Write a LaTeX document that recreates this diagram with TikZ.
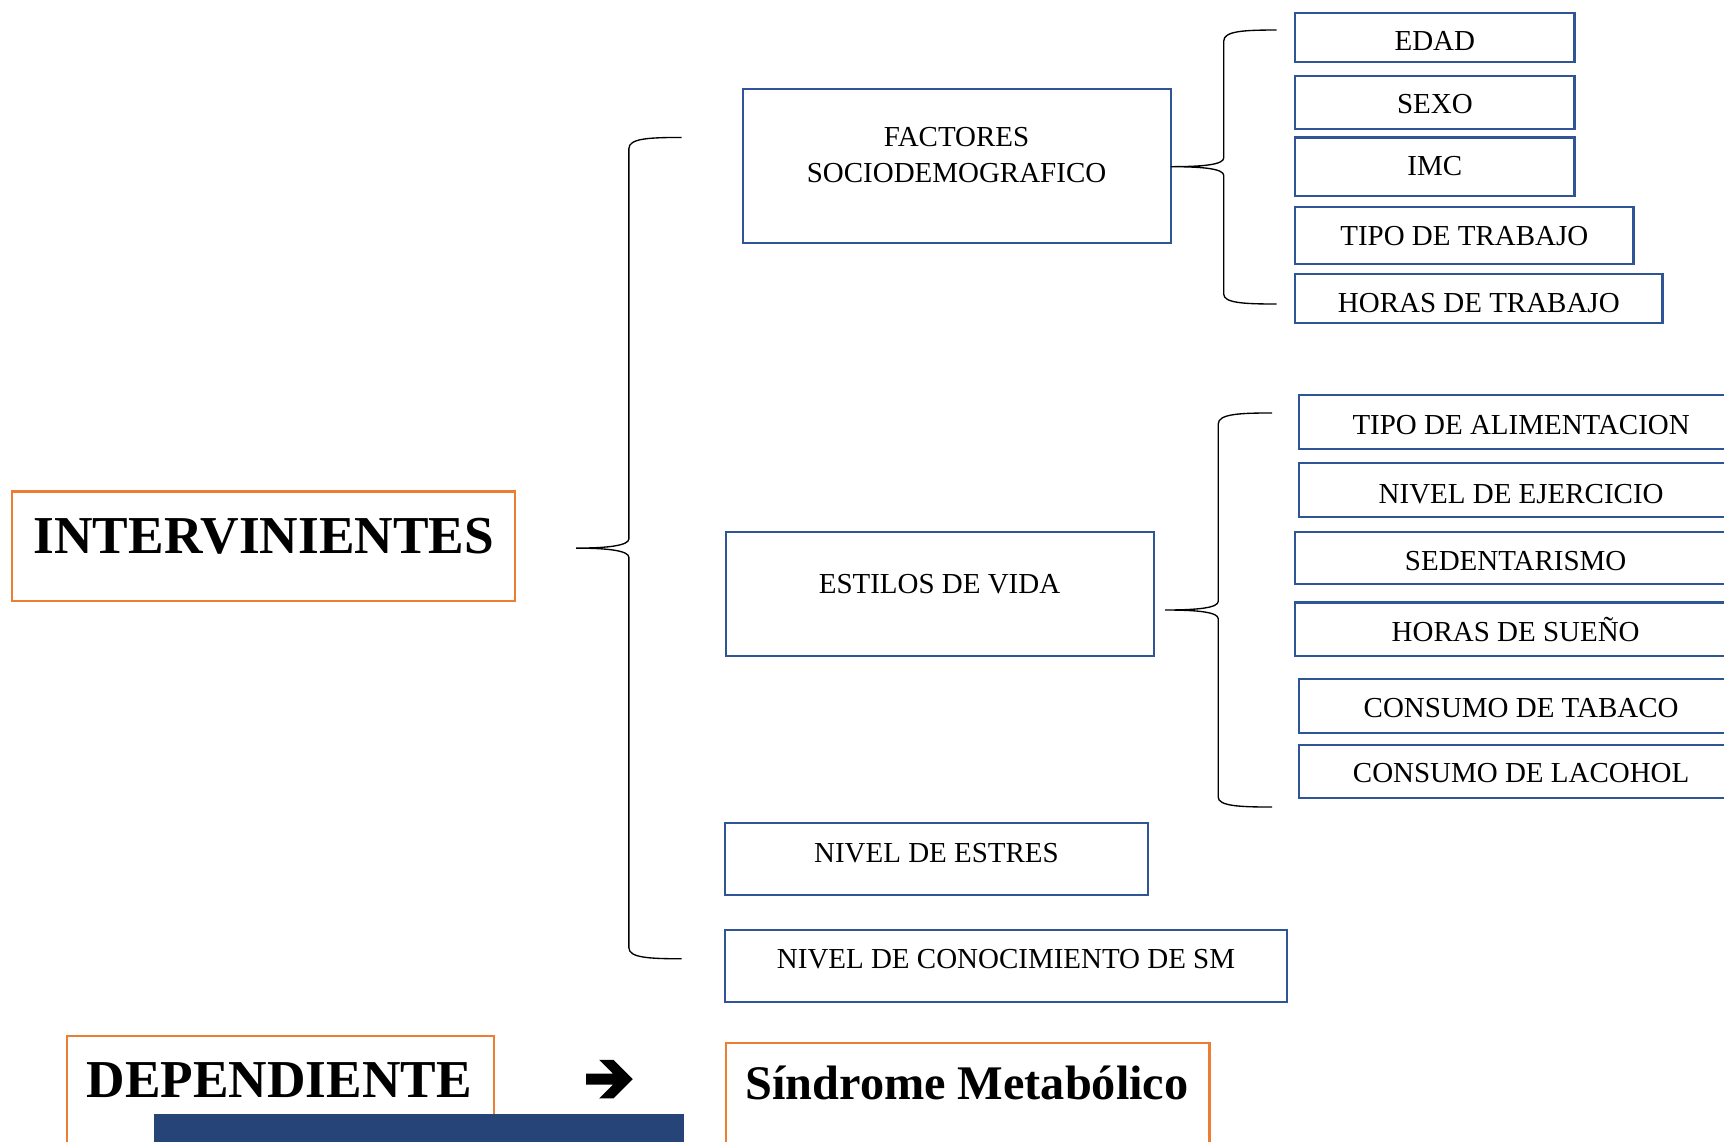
\documentclass[tikz,border=0pt]{standalone}
\usepackage{fontspec}
\setmainfont{Liberation Serif}
\usepackage{tikz}
\usetikzlibrary{fit}
\definecolor{boxblue}{HTML}{2F5597}
\definecolor{boxorange}{HTML}{ED7D31}
\definecolor{barblue}{HTML}{264478}
\tikzset{
x=0.02cm, y=-0.02cm, % one unit is one pixel of the layout, y going down
bluebox/.style={draw=boxblue, line width=1.1pt, inner sep=0pt}, % boxes of the variables
orangebox/.style={draw=boxorange, line width=1.1pt, inner sep=0pt}, % boxes of the kinds of variable
lbl/.style={anchor=base, inner sep=0pt, font=\fontsize{15}{18}\selectfont}, % text in the blue boxes
title/.style={anchor=base, inner sep=0pt, font=\fontsize{27.6}{30}\selectfont\bfseries},
brace/.style={draw=black, line width=0.7pt},
}

\begin{document}
\begin{tikzpicture}
		\useasboundingbox (0,0) rectangle (1568,1038);
		\clip (0,0) rectangle (1568,1038);

		% intervinientes
		\node[orangebox, fit={(11,447) (468,547)}] (inter) {};
		\node[title] (interT) at (240,503) {INTERVINIENTES};

		\node[bluebox, fit={(676,81) (1065,221)}] (fact) {};
		\node[lbl] (factA) at (870,133.5) {FACTORES};
		\node[lbl] (factB) at (870,166) {SOCIODEMOGRAFICO};
		\node[bluebox, fit={(660,483.6) (1049.6,596.4)}] (vida) {};
		\node[lbl] (vidaT) at (854.5,539.6) {ESTILOS DE VIDA};
		\node[bluebox, fit={(659.4,748.7) (1044,814)}] (estres) {};
		\node[lbl] (estresT) at (851.7,784.6) {NIVEL DE ESTRES};
		\node[bluebox, fit={(659.5,846) (1170.5,911)}] (conoc) {};
		\node[lbl] (conocT) at (915,880.5) {NIVEL DE CONOCIMIENTO DE SM};

		% sociodemograficos
		\node[bluebox, fit={(1178,11.5) (1432,56.7)}] (edad) {};
		\node[lbl] (edadT) at (1305,46) {EDAD};
		\node[bluebox, fit={(1178,69) (1432,117.3)}] (sexo) {};
		\node[lbl] (sexoT) at (1305,103.5) {SEXO};
		\node[bluebox, fit={(1178,125) (1432,178)}] (imc) {};
		\node[lbl] (imcT) at (1305,160) {IMC};
		\node[bluebox, fit={(1178,188) (1485.7,240)}] (tipotr) {};
		\node[lbl] (tipotrT) at (1331.8,223) {TIPO DE TRABAJO};
		\node[bluebox, fit={(1178,249.5) (1512,294)}] (horastr) {};
		\node[lbl] (horastrT) at (1345,284) {HORAS DE TRABAJO};

		% estilos de vida
		\node[bluebox, fit={(1181.5,359) (1585.5,408.5)}] (alim) {};
		\node[lbl] (alimT) at (1383.5,395) {TIPO DE ALIMENTACION};
		\node[bluebox, fit={(1181.5,421) (1585.5,470)}] (ejer) {};
		\node[lbl] (ejerT) at (1383.5,457.5) {NIVEL DE EJERCICIO};
		\node[bluebox, fit={(1177.5,484) (1579.5,531)}] (sedent) {};
		\node[lbl] (sedentT) at (1378.5,519) {SEDENTARISMO};
		\node[bluebox, fit={(1177.5,548) (1579.5,596.6)}] (sueno) {};
		\node[lbl] (suenoT) at (1378.5,583) {HORAS DE SUEÑO};
		\node[bluebox, fit={(1181.5,617.6) (1585.5,666.6)}] (tabaco) {};
		\node[lbl] (tabacoT) at (1383.5,653) {CONSUMO DE TABACO};
		\node[bluebox, fit={(1181.5,677.6) (1585.5,726)}] (alcohol) {};
		\node[lbl] (alcoholT) at (1383.5,712) {CONSUMO DE LACOHOL};

		% braces
		\draw[brace] (620,125) .. controls (590,125) and (572,126) .. (572,135)
			-- (572,490) .. controls (572,496) and (554,498.5) .. (524,498.5)
			.. controls (554,498.5) and (572,501) .. (572,507)
			-- (572,862) .. controls (572,871) and (590,872) .. (620,872);
		\draw[brace] (1161,27.3) .. controls (1131,27.3) and (1113,28.3) .. (1113,37.3)
			-- (1113,143.6) .. controls (1113,149.6) and (1095,151.6) .. (1065,151.6)
			.. controls (1095,151.6) and (1113,153.6) .. (1113,159.6)
			-- (1113,267.5) .. controls (1113,275.5) and (1131,276.5) .. (1161,276.5);
		\draw[brace] (1157,375.6) .. controls (1127,375.6) and (1108,376.6) .. (1108,385.6)
			-- (1108,546.8) .. controls (1108,552.8) and (1090,554.8) .. (1059.6,554.8)
			.. controls (1090,554.8) and (1108,556.8) .. (1108,562.8)
			-- (1108,725) .. controls (1108,733) and (1127,734) .. (1157,734);

		% dependiente
		\node[orangebox, fit={(61,942) (449,1060)}] (dep) {};
		\node[title] (depT) at (254,998) {DEPENDIENTE};
		\fill[barblue] (140,1013) rectangle (622,1060);
		% heavy arrow
		\fill (533,976.5) -- (557.5,976.5) -- (545,964) -- (558,964) -- (575.5,981.5)
			-- (558,999) -- (545,999) -- (557.5,986.5) -- (533,986.5) -- cycle;
		\node[orangebox, fit={(660,948.5) (1100,1060)}] (sm) {};
		\node[title, font=\fontsize{25}{28}\selectfont\bfseries] (smT) at (879.5,1000) {Síndrome Metabólico};
	\end{tikzpicture}
\end{document}
